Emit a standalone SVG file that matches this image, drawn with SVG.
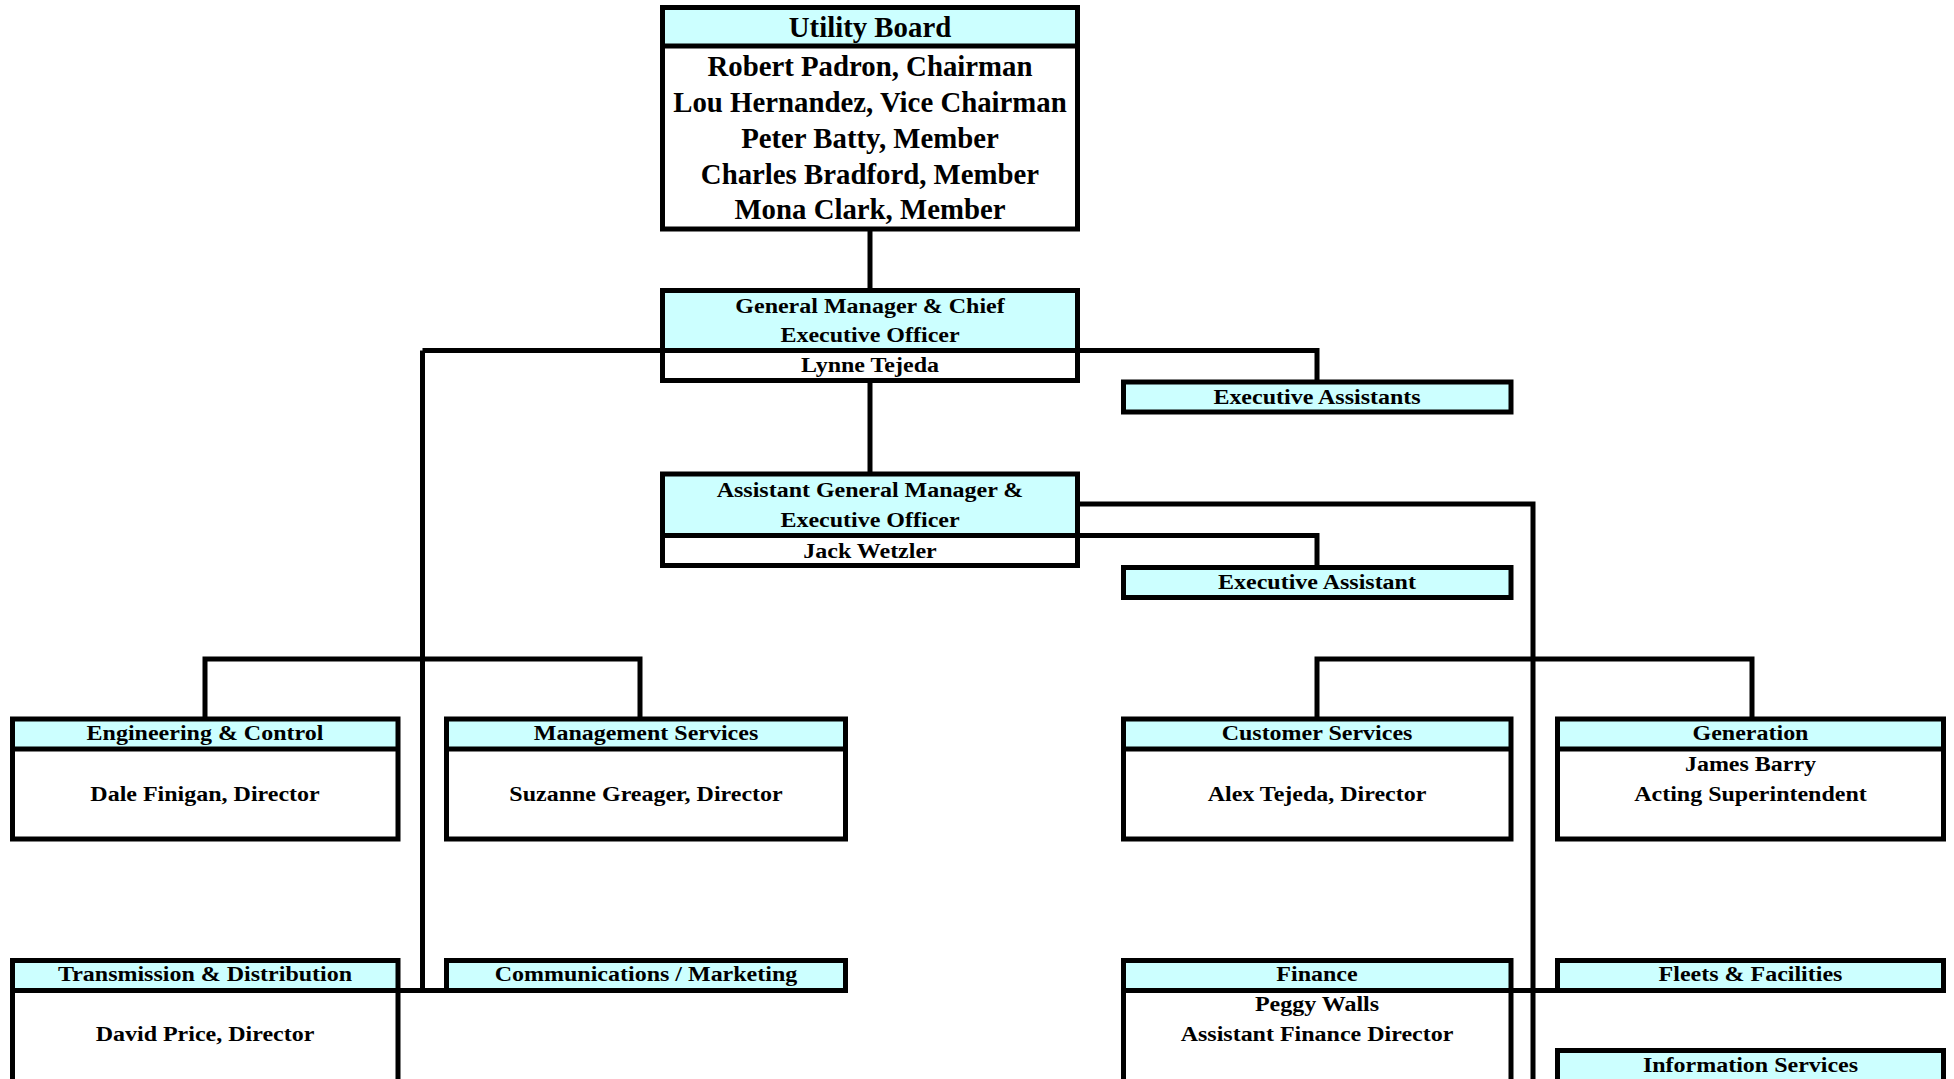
<svg xmlns="http://www.w3.org/2000/svg" width="1954" height="1079" viewBox="0 0 1954 1079">
<style>
.hd{fill:#CCFFFF;stroke:none}
.bx{fill:none;stroke:#000;stroke-width:5}
.dv{stroke:#000;stroke-width:5}
.cn{fill:none;stroke:#000;stroke-width:5}
text{font-family:"Liberation Serif","Times New Roman",serif;font-weight:bold;fill:#000;text-anchor:middle}
.b{font-size:28.8px}
.t{font-size:20px}
</style>
<rect x="0" y="0" width="1954" height="1079" fill="#fff"/>
<g id="connectors">
<path class="cn" d="M870 229V290.5"/>
<path class="cn" d="M870 380.5V474"/>
<path class="cn" d="M422.5 350.5H662.5M1077.5 350.5H1317V382"/>
<path class="cn" d="M1077.5 535.5H1317V567.5"/>
<path class="cn" d="M1077.5 504H1533V1079"/>
<path class="cn" d="M422.5 350.5V990.5"/>
<path class="cn" d="M205 719V659H640V719"/>
<path class="cn" d="M1317 719V659H1752V719"/>
<path class="cn" d="M398 990.5H446.5"/>
<path class="cn" d="M1511 990.5H1557.5"/>
</g>
<g id="utility-board">
<rect class="hd" x="662.5" y="7.5" width="415" height="38.5"/>
<rect class="bx" x="662.5" y="7.5" width="415" height="221.5"/>
<line class="dv" x1="662.5" y1="46" x2="1077.5" y2="46"/>
<text class="b" x="870" y="37">Utility Board</text>
<text class="b" x="870" y="75.5">Robert Padron, Chairman</text>
<text class="b" x="870" y="111.5">Lou Hernandez, Vice Chairman</text>
<text class="b" x="870" y="147.5">Peter Batty, Member</text>
<text class="b" x="870" y="183.5">Charles Bradford, Member</text>
<text class="b" x="870" y="219">Mona Clark, Member</text>
</g>
<g id="general-manager">
<rect class="hd" x="662.5" y="290.5" width="415" height="60"/>
<rect class="bx" x="662.5" y="290.5" width="415" height="90"/>
<line class="dv" x1="662.5" y1="350.5" x2="1077.5" y2="350.5"/>
<text class="t" transform="translate(870 313) scale(1.2 1)">General Manager &amp; Chief</text>
<text class="t" transform="translate(870 342) scale(1.2 1)">Executive Officer</text>
<text class="t" transform="translate(870 372) scale(1.2 1)">Lynne Tejeda</text>
</g>
<g id="executive-assistants">
<rect class="hd" x="1123.5" y="382" width="387.5" height="30"/>
<rect class="bx" x="1123.5" y="382" width="387.5" height="30"/>
<text class="t" transform="translate(1317 404) scale(1.2 1)">Executive Assistants</text>
</g>
<g id="assistant-general-manager">
<rect class="hd" x="662.5" y="474" width="415" height="61.5"/>
<rect class="bx" x="662.5" y="474" width="415" height="91.5"/>
<line class="dv" x1="662.5" y1="535.5" x2="1077.5" y2="535.5"/>
<text class="t" transform="translate(870 497) scale(1.2 1)">Assistant General Manager &amp;</text>
<text class="t" transform="translate(870 527) scale(1.2 1)">Executive Officer</text>
<text class="t" transform="translate(870 557.5) scale(1.2 1)">Jack Wetzler</text>
</g>
<g id="executive-assistant">
<rect class="hd" x="1123.5" y="567.5" width="387.5" height="30"/>
<rect class="bx" x="1123.5" y="567.5" width="387.5" height="30"/>
<text class="t" transform="translate(1317 589) scale(1.2 1)">Executive Assistant</text>
</g>
<g id="engineering-control">
<rect class="hd" x="12.5" y="719" width="385.5" height="30"/>
<rect class="bx" x="12.5" y="719" width="385.5" height="120"/>
<line class="dv" x1="12.5" y1="749" x2="398" y2="749"/>
<text class="t" transform="translate(205 740) scale(1.2 1)">Engineering &amp; Control</text>
<text class="t" transform="translate(205 801) scale(1.2 1)">Dale Finigan, Director</text>
</g>
<g id="management-services">
<rect class="hd" x="446.5" y="719" width="399" height="30"/>
<rect class="bx" x="446.5" y="719" width="399" height="120"/>
<line class="dv" x1="446.5" y1="749" x2="845.5" y2="749"/>
<text class="t" transform="translate(646 740) scale(1.2 1)">Management Services</text>
<text class="t" transform="translate(646 801) scale(1.2 1)">Suzanne Greager, Director</text>
</g>
<g id="customer-services">
<rect class="hd" x="1123.5" y="719" width="387.5" height="30"/>
<rect class="bx" x="1123.5" y="719" width="387.5" height="120"/>
<line class="dv" x1="1123.5" y1="749" x2="1511" y2="749"/>
<text class="t" transform="translate(1317 740) scale(1.2 1)">Customer Services</text>
<text class="t" transform="translate(1317 801) scale(1.2 1)">Alex Tejeda, Director</text>
</g>
<g id="generation">
<rect class="hd" x="1557.5" y="719" width="386" height="30"/>
<rect class="bx" x="1557.5" y="719" width="386" height="120"/>
<line class="dv" x1="1557.5" y1="749" x2="1943.5" y2="749"/>
<text class="t" transform="translate(1750.5 740) scale(1.2 1)">Generation</text>
<text class="t" transform="translate(1750.5 771) scale(1.2 1)">James Barry</text>
<text class="t" transform="translate(1750.5 801) scale(1.2 1)">Acting Superintendent</text>
</g>
<g id="transmission-distribution">
<rect class="hd" x="12.5" y="960.5" width="385.5" height="30"/>
<rect class="bx" x="12.5" y="960.5" width="385.5" height="130"/>
<line class="dv" x1="12.5" y1="990.5" x2="398" y2="990.5"/>
<text class="t" transform="translate(205 981) scale(1.2 1)">Transmission &amp; Distribution</text>
<text class="t" transform="translate(205 1041) scale(1.2 1)">David Price, Director</text>
</g>
<g id="communications-marketing">
<rect class="hd" x="446.5" y="960.5" width="399" height="30"/>
<rect class="bx" x="446.5" y="960.5" width="399" height="30"/>
<text class="t" transform="translate(646 981) scale(1.2 1)">Communications / Marketing</text>
</g>
<g id="finance">
<rect class="hd" x="1123.5" y="960.5" width="387.5" height="30"/>
<rect class="bx" x="1123.5" y="960.5" width="387.5" height="130"/>
<line class="dv" x1="1123.5" y1="990.5" x2="1511" y2="990.5"/>
<text class="t" transform="translate(1317 981) scale(1.2 1)">Finance</text>
<text class="t" transform="translate(1317 1011) scale(1.2 1)">Peggy Walls</text>
<text class="t" transform="translate(1317 1041) scale(1.2 1)">Assistant Finance Director</text>
</g>
<g id="fleets-facilities">
<rect class="hd" x="1557.5" y="960.5" width="386" height="30"/>
<rect class="bx" x="1557.5" y="960.5" width="386" height="30"/>
<text class="t" transform="translate(1750.5 981) scale(1.2 1)">Fleets &amp; Facilities</text>
</g>
<g id="information-services">
<rect class="hd" x="1557.5" y="1050.5" width="386" height="40"/>
<rect class="bx" x="1557.5" y="1050.5" width="386" height="40"/>
<text class="t" transform="translate(1750.5 1072) scale(1.2 1)">Information Services</text>
</g>
</svg>
